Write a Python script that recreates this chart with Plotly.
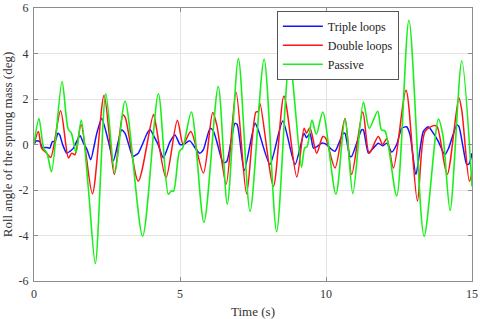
import plotly.graph_objects as go

# ---- data ----
passive_t = [0, 0.17, 0.33, 0.45, 0.6, 0.96, 1.17, 1.28, 1.44, 1.62, 1.86, 2.1, 2.46, 2.77, 3.12,
             3.72, 4.26, 4.6, 4.7, 4.78, 4.98, 5.09, 5.39, 5.82, 6.31, 6.62, 7.0, 7.4, 7.88, 8.31,
             8.75, 9.16, 9.27, 9.35, 9.52, 9.67, 9.89, 10.34, 10.65, 10.92, 11.28, 11.48, 11.77,
             11.9, 12.02, 12.42, 12.84, 13.36, 13.85, 14.0, 14.25, 14.65, 15.0]
passive_y = [0, 1.14, -0.16, -0.4, -1.2, 2.77, 0.68, 0.5, -0.35, 1.07, -1.9, -5.23, 2.23, -1.25, 1.9,
             -4.03, 2.23, -2.19, -2.04, -2.05, -0.3, -0.16, 1.43, -3.42, 2.55, -2.62, 3.78, -2.94, 3.75, -3.83,
             3.72, -1.0, -0.15, -0.1, 1.07, 0.45, 1.43, -2.19, 1.14, -2.16, 1.87, 0.71, 1.46,
             0.64, 0.6, -2.26, 5.46, -4.04, 1.12, 0.42, -2.9, 3.68, -1.83]

double_t = [0, 0.15, 0.26, 0.43, 0.57, 0.91, 1.18, 1.29, 1.4, 1.61, 2.0, 2.4, 2.75, 3.04, 3.12, 3.57,
            4.09, 4.17, 4.52, 4.91, 5.11, 5.37, 5.8, 6.12, 6.26, 6.58, 6.92, 7.28, 7.6, 7.68, 7.74,
            8.2, 8.56, 9.0, 9.25, 9.33, 9.45, 9.68, 9.89, 9.98, 10.31, 10.65, 10.88, 11.26, 11.48,
            11.79, 11.94, 12.08, 12.31, 12.74, 13.13, 13.39, 13.68, 13.8, 14.15, 14.55, 14.65, 14.91, 15.0]
double_y = [0, 0.57, -0.16, -0.38, -0.57, 1.48, -0.59, -0.38, -0.45, 0.88, -2.16, 2.16, -1.32, 1.29, 1.2, -1.61,
            1.32, 0.9, -1.46, 1.07, 0.0, 0.57, -1.25, 1.41, 0.86, -1.75, 2.3, -2.16, 1.43, 1.45, 1.8,
            -1.83, 2.13, -1.43, 0.71, 0.5, 0.74, -0.38, 0.35, 0.3, -1.03, 1.14, -1.32, 1.43, -0.38,
            0.35, 0.0, 0.25, -1.03, 2.38, -2.48, 0.57, 0.83, 0.8, -1.32, 2.06, 1.5, -1.61, -1.25]

triple_t = [0, 0.08, 0.2, 0.28, 0.43, 0.54, 0.63, 0.72, 0.82, 0.88, 0.98, 1.12, 1.23, 1.35, 1.46, 1.58,
            1.69, 1.82, 1.94, 2.15, 2.32, 2.55, 2.72, 3.0, 3.12, 3.35, 3.4, 3.57, 3.86, 3.97, 4.14,
            4.25, 4.43, 4.66, 4.83, 5.0, 5.11, 5.34, 5.52, 5.68, 5.8, 6.03, 6.14, 6.26, 6.48, 6.6,
            6.88, 6.96, 7.2, 7.57, 7.68, 8.08, 8.52, 8.94, 9.25, 9.33, 9.45, 9.57, 9.68, 9.85, 10.02,
            10.2, 10.31, 10.59, 10.65, 10.82, 10.88, 11.22, 11.28, 11.45, 11.62, 11.79, 11.94, 12.08,
            12.25, 12.42, 12.59, 12.76, 12.88, 13.08, 13.33, 13.5, 13.68, 13.85, 14.07, 14.2, 14.48,
            14.55, 14.7, 14.82, 14.9, 15.0]
triple_y = [0, 0.16, 0.13, -0.13, -0.13, -0.16, 0.13, 0.13, 0.49, 0.42, 0.0, -0.38, -0.3, -0.16, 0.13, 0.39,
            0.06, -0.23, -0.67, 0.49, 1.14, 0.13, -0.71, 0.64, 0.49, -0.45, -0.52, -0.38, 0.45, 0.66, 0.28,
            0.0, -0.59, 0.13, 0.42, 0.0, 0.0, 0.16, -0.16, -0.38, -0.23, 0.71, 0.6, 0.13, -0.81, -0.75,
            0.93, 0.88, -1.14, 0.93, 0.64, -0.88, 1.03, -0.88, 0.49, 0.3, 0.49, -0.16, -0.1, 0.06, 0.0,
            -0.23, -0.3, 0.49, 0.49, -0.52, -0.52, 0.64, 0.64, -0.38, -0.16, 0.06, -0.06, 0.06,
            -0.33, 0.0, 0.71, 0.78, 0.42, -1.32, 0.57, 0.78, 0.49, 0.13, -0.45, -0.16, 0.86,
            0.8, -0.16, -0.88, -0.85, -0.38]

x_ticks = [0, 5, 10, 15]
x_tick_labels = ["0", "5", "10", "15"]
y_ticks = [-6, -4, -2, 0, 2, 4, 6]
y_tick_labels = ["-6", "-4", "-2", "0", "2", "4", "6"]

FONT = "Liberation Serif, Times New Roman, serif"

fig = go.Figure()
fig.add_trace(go.Scatter(x=triple_t, y=triple_y, mode="lines", name="Triple loops",
                         line=dict(color="#1414ff", width=1.5, shape="spline", smoothing=0.6)))
fig.add_trace(go.Scatter(x=double_t, y=double_y, mode="lines", name="Double loops",
                         line=dict(color="#ff1414", width=1.5, shape="spline", smoothing=0.8)))
fig.add_trace(go.Scatter(x=passive_t, y=passive_y, mode="lines", name="Passive",
                         line=dict(color="#19f019", width=1.6, shape="spline", smoothing=0.8)))

axis_common = dict(showline=True, linecolor="#8c8c8c", linewidth=1, mirror="ticks",
                   ticks="inside", ticklen=4, tickcolor="#8c8c8c", automargin=False,
                   ticklabeloverflow="allow",
                   showgrid=True, gridcolor="#e4e4e4", gridwidth=1, zeroline=False,
                   tickfont=dict(family=FONT, size=12, color="#333333"))

fig.update_xaxes(range=[0, 15], tickvals=x_ticks, ticktext=x_tick_labels, ticklabelstandoff=2,
                 title=dict(text="Time (s)", font=dict(family=FONT, size=13, color="#333333")),
                 **axis_common)
fig.update_yaxes(range=[-6, 6], tickvals=y_ticks, ticktext=y_tick_labels, ticklabelstandoff=2,
                 title=dict(text="Roll angle of the sprung mass (deg)",
                            font=dict(family=FONT, size=13, color="#333333")),
                 **axis_common)

fig.update_layout(
    width=480, height=319,
    margin=dict(l=34, r=8, t=8, b=38),
    plot_bgcolor="white", paper_bgcolor="white",
    showlegend=True,
    legend=dict(x=0.833, y=0.99, xanchor="right", yanchor="top",
                bgcolor="white", bordercolor="#555555", borderwidth=1,
                font=dict(family=FONT, size=12, color="#222222"),
                itemwidth=40, tracegroupgap=0),
)

fig.write_html("out.html", config={"displayModeBar": False},
               post_script="document.body.style.margin='0';")
